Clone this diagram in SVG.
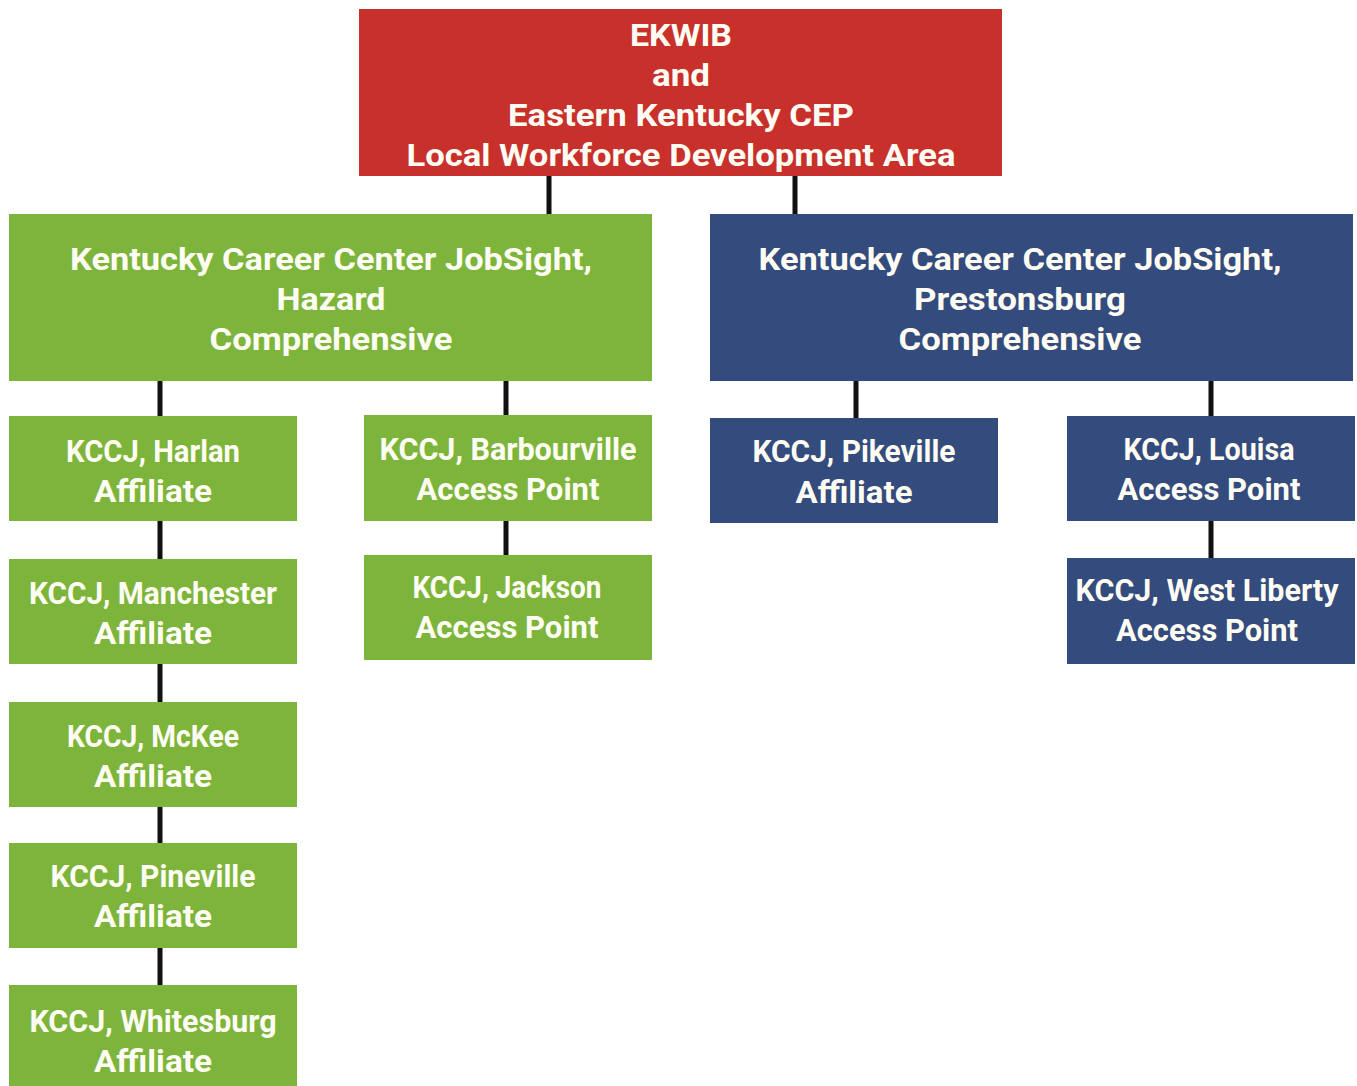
<svg xmlns="http://www.w3.org/2000/svg" width="1357" height="1086" viewBox="0 0 1357 1086">
<style>
.red{fill:#c8302b}
.green{fill:#7db53c}
.blue{fill:#344b7d}
.t{font-family:Roboto,"Liberation Sans",sans-serif;font-weight:700;font-size:31px;fill:#fffdf3;text-anchor:middle}
.c{stroke:#111;stroke-width:5;fill:none}
</style>
<rect width="1357" height="1086" fill="#fff"/>
<g id="connectors">
<path class="c" d="M549 176V214M795 176V214M160 381V416M160 521V559M160 664V702M160 807V843M160 948V985M506 381V415M506 521V555M856 381V418M1211 381V416M1211 521V558"/>
</g>
<g id="ekwib">
<rect class="red" x="359" y="9" width="643" height="167"/>
<text class="t" x="681" y="46" textLength="102" lengthAdjust="spacingAndGlyphs">EKWIB</text>
<text class="t" x="681" y="86" textLength="58" lengthAdjust="spacingAndGlyphs">and</text>
<text class="t" x="681" y="126" textLength="346" lengthAdjust="spacingAndGlyphs">Eastern Kentucky CEP</text>
<text class="t" x="681" y="166" textLength="549" lengthAdjust="spacingAndGlyphs">Local Workforce Development Area</text>
</g>
<g id="hazard">
<rect class="green" x="9" y="214" width="643" height="167"/>
<text class="t" x="331" y="270" textLength="522" lengthAdjust="spacingAndGlyphs">Kentucky Career Center JobSight,</text>
<text class="t" x="331" y="310" textLength="109" lengthAdjust="spacingAndGlyphs">Hazard</text>
<text class="t" x="331" y="350" textLength="243" lengthAdjust="spacingAndGlyphs">Comprehensive</text>
</g>
<g id="prestonsburg">
<rect class="blue" x="710" y="214" width="643" height="167"/>
<text class="t" x="1020" y="270" textLength="523" lengthAdjust="spacingAndGlyphs">Kentucky Career Center JobSight,</text>
<text class="t" x="1020" y="310" textLength="212" lengthAdjust="spacingAndGlyphs">Prestonsburg</text>
<text class="t" x="1020" y="350" textLength="243" lengthAdjust="spacingAndGlyphs">Comprehensive</text>
</g>
<g id="harlan">
<rect class="green" x="9" y="416" width="288" height="105"/>
<text class="t" x="153" y="462" textLength="174" lengthAdjust="spacingAndGlyphs">KCCJ, Harlan</text>
<text class="t" x="153" y="502" textLength="118" lengthAdjust="spacingAndGlyphs">Affiliate</text>
</g>
<g id="manchester">
<rect class="green" x="9" y="559" width="288" height="105"/>
<text class="t" x="153" y="604" textLength="248" lengthAdjust="spacingAndGlyphs">KCCJ, Manchester</text>
<text class="t" x="153" y="644" textLength="118" lengthAdjust="spacingAndGlyphs">Affiliate</text>
</g>
<g id="mckee">
<rect class="green" x="9" y="702" width="288" height="105"/>
<text class="t" x="153" y="747" textLength="172" lengthAdjust="spacingAndGlyphs">KCCJ, McKee</text>
<text class="t" x="153" y="787" textLength="118" lengthAdjust="spacingAndGlyphs">Affiliate</text>
</g>
<g id="pineville">
<rect class="green" x="9" y="843" width="288" height="105"/>
<text class="t" x="153" y="887" textLength="205" lengthAdjust="spacingAndGlyphs">KCCJ, Pineville</text>
<text class="t" x="153" y="927" textLength="118" lengthAdjust="spacingAndGlyphs">Affiliate</text>
</g>
<g id="whitesburg">
<rect class="green" x="9" y="985" width="288" height="105"/>
<text class="t" x="153" y="1032" textLength="247" lengthAdjust="spacingAndGlyphs">KCCJ, Whitesburg</text>
<text class="t" x="153" y="1072" textLength="118" lengthAdjust="spacingAndGlyphs">Affiliate</text>
</g>
<g id="barbourville">
<rect class="green" x="364" y="415" width="288" height="106"/>
<text class="t" x="508" y="460" textLength="257" lengthAdjust="spacingAndGlyphs">KCCJ, Barbourville</text>
<text class="t" x="508" y="500" textLength="183" lengthAdjust="spacingAndGlyphs">Access Point</text>
</g>
<g id="jackson">
<rect class="green" x="364" y="555" width="288" height="105"/>
<text class="t" x="507" y="598" textLength="189" lengthAdjust="spacingAndGlyphs">KCCJ, Jackson</text>
<text class="t" x="507" y="638" textLength="183" lengthAdjust="spacingAndGlyphs">Access Point</text>
</g>
<g id="pikeville">
<rect class="blue" x="710" y="418" width="288" height="105"/>
<text class="t" x="854" y="462" textLength="203" lengthAdjust="spacingAndGlyphs">KCCJ, Pikeville</text>
<text class="t" x="854" y="503" textLength="117" lengthAdjust="spacingAndGlyphs">Affiliate</text>
</g>
<g id="louisa">
<rect class="blue" x="1067" y="416" width="288" height="105"/>
<text class="t" x="1209" y="460" textLength="171" lengthAdjust="spacingAndGlyphs">KCCJ, Louisa</text>
<text class="t" x="1209" y="500" textLength="183" lengthAdjust="spacingAndGlyphs">Access Point</text>
</g>
<g id="westliberty">
<rect class="blue" x="1067" y="558" width="288" height="106"/>
<text class="t" x="1207" y="601" textLength="263" lengthAdjust="spacingAndGlyphs">KCCJ, West Liberty</text>
<text class="t" x="1207" y="641" textLength="182" lengthAdjust="spacingAndGlyphs">Access Point</text>
</g>
</svg>
